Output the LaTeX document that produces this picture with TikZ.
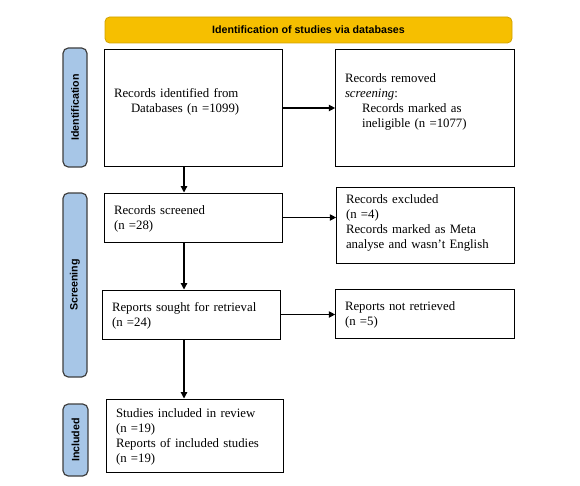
\documentclass[tikz,border=0pt]{standalone}
\usepackage{fontspec}
\setmainfont{Liberation Serif}
\newfontfamily\arialfont{Liberation Sans}
\usetikzlibrary{arrows.meta}
\definecolor{bannerfill}{HTML}{F6BF00}
\definecolor{bannerline}{HTML}{D1A200}
\definecolor{sidefill}{HTML}{A7C6E7}
\definecolor{sideline}{HTML}{3F3F3F}
\begin{document}
\begin{tikzpicture}[x=0.75pt,y=-0.75pt,
  banner/.style={draw=bannerline,fill=bannerfill,rounded corners=3.5pt,line width=0.6pt,
    font=\arialfont\bfseries\fontsize{8pt}{9.6pt}\selectfont,inner sep=0pt},
  side/.style={draw=sideline,fill=sidefill,rounded corners=4pt,line width=0.9pt,
    minimum width=18pt,inner sep=0pt,
    font=\arialfont\bfseries\fontsize{8pt}{9.6pt}\selectfont},
  sidetext/.style={rotate=90,font=\arialfont\bfseries\fontsize{8pt}{9.6pt}\selectfont,inner sep=0pt},
  box/.style={draw=black,line width=0.75pt,align=left,inner xsep=7pt,inner ysep=0pt,
    font=\fontsize{9.6pt}{11.25pt}\selectfont},
  arr/.style={line width=0.9pt,-{Triangle[length=4.8pt,width=4.8pt]}}]
\useasboundingbox (0,0) rectangle (580,485);
% banner
\node[banner,minimum width=305.25pt,minimum height=19.5pt] (banner) at (308.5,30) {Identification of studies via databases};
% side bars
\node[side,minimum height=89.25pt] (sideA) at (75,107.5) {};
\node[sidetext] (sideAt) at (sideA.center) {Identification};
\node[side,minimum height=138pt] (sideB) at (75,285) {};
\node[sidetext] (sideBt) at (sideB.center) {Screening};
\node[side,minimum height=54pt,minimum width=18.75pt] (sideC) at (75.5,440) {};
\node[sidetext] (sideCt) at (sideC.center) {Included};
% boxes
\node[box,minimum width=132.75pt,text width=119.25pt,minimum height=87pt,text depth=22pt] (b1) at (193.5,108)
  {Records identified from\\\hspace*{12.75pt}Databases (n =1099)};
\node[box,minimum width=133.5pt,text width=120pt,minimum height=87pt,text depth=45.25pt] (b2) at (425,108)
  {Records removed\\\textit{screening}:\\\hspace*{12.75pt}Records marked as\\\hspace*{12.75pt}ineligible (n =1077)};
\node[box,minimum width=132.75pt,text width=119.25pt,minimum height=36.75pt,text height=9.5pt] (b3) at (193.5,217.5)
  {Records screened\\(n =28)};
\node[box,minimum width=132.75pt,text width=119.25pt,minimum height=57pt,text depth=38.25pt] (b4) at (425.5,225)
  {Records excluded\\(n =4)\\Records marked as Meta\\analyse and wasn’t English};
\node[box,minimum width=132.75pt,text width=119.25pt,minimum height=36.75pt,text height=9.5pt] (b5) at (191.5,314.5)
  {Reports sought for retrieval\\(n =24)};
\node[box,minimum width=133.5pt,text width=120pt,minimum height=36.75pt,text height=9.5pt] (b6) at (425,313.5)
  {Reports not retrieved\\(n =5)};
\node[box,minimum width=132pt,text width=118.5pt,minimum height=54.75pt,text height=9.5pt] (b7) at (195,435.5)
  {Studies included in review\\(n =19)\\Reports of included studies\\(n =19)};
% connectors
\coordinate (vx) at (184,0);
\draw[arr] (b1.east) -- (b2.west);
\draw[arr] (b1.south -| vx) -- (b3.north -| vx);
\draw[arr] (b3.east) -- (b3.east -| b4.west);
\draw[arr] (b3.south -| vx) -- (b5.north -| vx);
\draw[arr] (b5.east) -- (b5.east -| b6.west);
\draw[arr] (b5.south -| vx) -- (b7.north -| vx);
\end{tikzpicture}
\end{document}
